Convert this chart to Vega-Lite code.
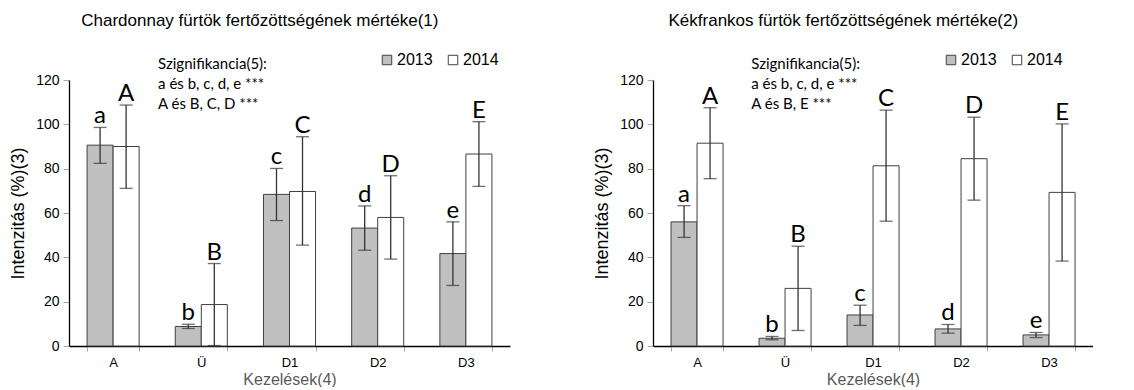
{
  "$schema": "https://vega.github.io/schema/vega-lite/v6.json",
  "padding": {"left": 9, "top": 12, "right": 0, "bottom": 0},
  "datasets": {
    "bars": [
      {"fajta": "Chardonnay", "kez": "A", "ev": "2013", "mean": 90.6, "lo": 82.4, "hi": 98.6, "betu": "a"},
      {"fajta": "Chardonnay", "kez": "A", "ev": "2014", "mean": 90.0, "lo": 71.1, "hi": 108.7, "betu": "A"},
      {"fajta": "Chardonnay", "kez": "Ü", "ev": "2013", "mean": 8.8, "lo": 7.9, "hi": 9.8, "betu": "b"},
      {"fajta": "Chardonnay", "kez": "Ü", "ev": "2014", "mean": 18.7, "lo": 0.2, "hi": 37.2, "betu": "B"},
      {"fajta": "Chardonnay", "kez": "D1", "ev": "2013", "mean": 68.4, "lo": 56.6, "hi": 80.1, "betu": "c"},
      {"fajta": "Chardonnay", "kez": "D1", "ev": "2014", "mean": 69.7, "lo": 45.5, "hi": 94.4, "betu": "C"},
      {"fajta": "Chardonnay", "kez": "D2", "ev": "2013", "mean": 53.2, "lo": 43.2, "hi": 63.2, "betu": "d"},
      {"fajta": "Chardonnay", "kez": "D2", "ev": "2014", "mean": 58.0, "lo": 39.2, "hi": 76.8, "betu": "D"},
      {"fajta": "Chardonnay", "kez": "D3", "ev": "2013", "mean": 41.7, "lo": 27.3, "hi": 56.0, "betu": "e"},
      {"fajta": "Chardonnay", "kez": "D3", "ev": "2014", "mean": 86.6, "lo": 72.0, "hi": 101.2, "betu": "E"},
      {"fajta": "Kékfrankos", "kez": "A", "ev": "2013", "mean": 56.0, "lo": 49.0, "hi": 63.3, "betu": "a"},
      {"fajta": "Kékfrankos", "kez": "A", "ev": "2014", "mean": 91.5, "lo": 75.5, "hi": 107.5, "betu": "A"},
      {"fajta": "Kékfrankos", "kez": "Ü", "ev": "2013", "mean": 3.5, "lo": 2.8, "hi": 4.3, "betu": "b"},
      {"fajta": "Kékfrankos", "kez": "Ü", "ev": "2014", "mean": 26.0, "lo": 7.0, "hi": 45.0, "betu": "B"},
      {"fajta": "Kékfrankos", "kez": "D1", "ev": "2013", "mean": 14.0, "lo": 9.3, "hi": 18.4, "betu": "c"},
      {"fajta": "Kékfrankos", "kez": "D1", "ev": "2014", "mean": 81.3, "lo": 56.3, "hi": 106.4, "betu": "C"},
      {"fajta": "Kékfrankos", "kez": "D2", "ev": "2013", "mean": 7.7, "lo": 5.8, "hi": 9.7, "betu": "d"},
      {"fajta": "Kékfrankos", "kez": "D2", "ev": "2014", "mean": 84.5, "lo": 65.8, "hi": 103.2, "betu": "D"},
      {"fajta": "Kékfrankos", "kez": "D3", "ev": "2013", "mean": 5.0, "lo": 3.8, "hi": 6.1, "betu": "e"},
      {"fajta": "Kékfrankos", "kez": "D3", "ev": "2014", "mean": 69.3, "lo": 38.3, "hi": 100.2, "betu": "E"}
    ],
    "notes": [
      {"fajta": "Chardonnay", "txt": "Szignifikancia(5):\na és b, c, d, e ***\nA és B, C, D ***"},
      {"fajta": "Kékfrankos", "txt": "Szignifikancia(5):\na és b, c, d, e ***\nA és B, E ***"}
    ]
  },
  "hconcat": [
    {
      "width": 441,
      "height": 266,
      "title": {"text": "Chardonnay fürtök fertőzöttségének mértéke(1)"},
      "encoding": {
        "x": {
          "field": "kez", "type": "nominal", "sort": ["A", "Ü", "D1", "D2", "D3"],
          "scale": {"paddingInner": 0.41, "paddingOuter": 0.205},
          "axis": {"title": "Kezelések(4)"}
        }
      },
      "layer": [
        {
          "data": {"name": "bars"},
          "transform": [{"filter": "datum.fajta == 'Chardonnay'"}],
          "layer": [
            {
              "mark": {"type": "bar", "stroke": "#404040", "strokeWidth": 1},
              "encoding": {
                "xOffset": {"field": "ev", "type": "nominal", "scale": {"paddingInner": 0, "paddingOuter": 0}},
                "y": {"field": "mean", "type": "quantitative", "scale": {"domain": [0, 120]}, "axis": {"title": "Intenzitás (%)(3)", "values": [0, 20, 40, 60, 80, 100, 120]}},
                "fill": {"field": "ev", "type": "nominal", "scale": {"domain": ["2013", "2014"], "range": ["#c0c0c0", "#ffffff"]}, "legend": {"orient": "none", "legendX": 310, "legendY": -28, "direction": "horizontal", "title": null}}
              }
            },
            {
              "mark": {"type": "rule", "color": "#333333", "strokeWidth": 1.3},
              "encoding": {
                "xOffset": {"field": "ev", "type": "nominal"},
                "y": {"field": "lo", "type": "quantitative"},
                "y2": {"field": "hi"}
              }
            },
            {
              "mark": {"type": "tick", "color": "#333333", "thickness": 1.3, "size": 13, "orient": "horizontal"},
              "encoding": {"xOffset": {"field": "ev", "type": "nominal"}, "y": {"field": "lo", "type": "quantitative"}}
            },
            {
              "mark": {"type": "tick", "color": "#333333", "thickness": 1.3, "size": 13, "orient": "horizontal"},
              "encoding": {"xOffset": {"field": "ev", "type": "nominal"}, "y": {"field": "hi", "type": "quantitative"}}
            },
            {
              "mark": {"type": "text", "font": "Lato", "fontSize": 24, "baseline": "alphabetic", "dy": -4, "color": "#000000"},
              "encoding": {"xOffset": {"field": "ev", "type": "nominal"}, "y": {"field": "hi", "type": "quantitative"}, "text": {"field": "betu"}}
            }
          ]
        },
        {
          "data": {"name": "notes"},
          "transform": [{"filter": "datum.fajta == 'Chardonnay'"}],
          "mark": {"type": "text", "font": "Lato", "fontSize": 15, "align": "left", "baseline": "alphabetic", "lineBreak": "\n", "lineHeight": 20, "color": "#000000"},
          "encoding": {
            "x": {"datum": "Ü", "bandPosition": -0.33},
            "y": {"datum": 125},
            "text": {"field": "txt"}
          }
        }
      ]
    },
    {
      "width": 440,
      "height": 266,
      "title": {"text": "Kékfrankos fürtök fertőzöttségének mértéke(2)"},
      "encoding": {
        "x": {
          "field": "kez", "type": "nominal", "sort": ["A", "Ü", "D1", "D2", "D3"],
          "scale": {"paddingInner": 0.41, "paddingOuter": 0.205},
          "axis": {"title": "Kezelések(4)"}
        }
      },
      "layer": [
        {
          "data": {"name": "bars"},
          "transform": [{"filter": "datum.fajta == 'Kékfrankos'"}],
          "layer": [
            {
              "mark": {"type": "bar", "stroke": "#404040", "strokeWidth": 1},
              "encoding": {
                "xOffset": {"field": "ev", "type": "nominal", "scale": {"paddingInner": 0, "paddingOuter": 0}},
                "y": {"field": "mean", "type": "quantitative", "scale": {"domain": [0, 120]}, "axis": {"title": "Intenzitás (%)(3)", "values": [0, 20, 40, 60, 80, 100, 120]}},
                "fill": {"field": "ev", "type": "nominal", "scale": {"domain": ["2013", "2014"], "range": ["#c0c0c0", "#ffffff"]}, "legend": {"orient": "none", "legendX": 290, "legendY": -28, "direction": "horizontal", "title": null}}
              }
            },
            {
              "mark": {"type": "rule", "color": "#333333", "strokeWidth": 1.3},
              "encoding": {
                "xOffset": {"field": "ev", "type": "nominal"},
                "y": {"field": "lo", "type": "quantitative"},
                "y2": {"field": "hi"}
              }
            },
            {
              "mark": {"type": "tick", "color": "#333333", "thickness": 1.3, "size": 13, "orient": "horizontal"},
              "encoding": {"xOffset": {"field": "ev", "type": "nominal"}, "y": {"field": "lo", "type": "quantitative"}}
            },
            {
              "mark": {"type": "tick", "color": "#333333", "thickness": 1.3, "size": 13, "orient": "horizontal"},
              "encoding": {"xOffset": {"field": "ev", "type": "nominal"}, "y": {"field": "hi", "type": "quantitative"}}
            },
            {
              "mark": {"type": "text", "font": "Lato", "fontSize": 24, "baseline": "alphabetic", "dy": -4, "color": "#000000"},
              "encoding": {"xOffset": {"field": "ev", "type": "nominal"}, "y": {"field": "hi", "type": "quantitative"}, "text": {"field": "betu"}}
            }
          ]
        },
        {
          "data": {"name": "notes"},
          "transform": [{"filter": "datum.fajta == 'Kékfrankos'"}],
          "mark": {"type": "text", "font": "Lato", "fontSize": 15, "align": "left", "baseline": "alphabetic", "lineBreak": "\n", "lineHeight": 20, "color": "#000000"},
          "encoding": {
            "x": {"datum": "Ü", "bandPosition": -0.15},
            "y": {"datum": 125},
            "text": {"field": "txt"}
          }
        }
      ]
    }
  ],
  "spacing": 83,
  "resolve": {"legend": {"fill": "independent"}},
  "config": {
    "font": "Liberation Sans",
    "view": {"stroke": null},
    "title": {"font": "Liberation Sans", "fontSize": 17, "fontWeight": "normal", "color": "#000000", "anchor": "middle", "frame": "bounds", "offset": 22},
    "axisX": {
      "domainColor": "#000000", "domainWidth": 1.3, "tickBand": "extent", "tickColor": "#aaaaaa", "tickSize": 5,
      "labelAngle": 0, "labelFontSize": 13, "labelColor": "#000000", "labelPadding": 5,
      "titleFontSize": 16, "titleFontWeight": "normal", "titleColor": "#595959", "titlePadding": 2, "grid": false
    },
    "axisY": {
      "domainColor": "#000000", "domainWidth": 1.3, "tickColor": "#aaaaaa", "tickSize": 6,
      "labelFontSize": 14, "labelColor": "#000000", "labelPadding": 4,
      "titleFontSize": 18, "titleFontWeight": "normal", "titleColor": "#000000", "titlePadding": 8, "grid": false
    },
    "legend": {
      "symbolType": "square", "symbolSize": 90, "symbolStrokeColor": "#404040", "symbolStrokeWidth": 1,
      "labelFontSize": 16, "labelFont": "Liberation Sans", "labelColor": "#000000", "labelOffset": 2, "columnPadding": 12
    }
  }
}
